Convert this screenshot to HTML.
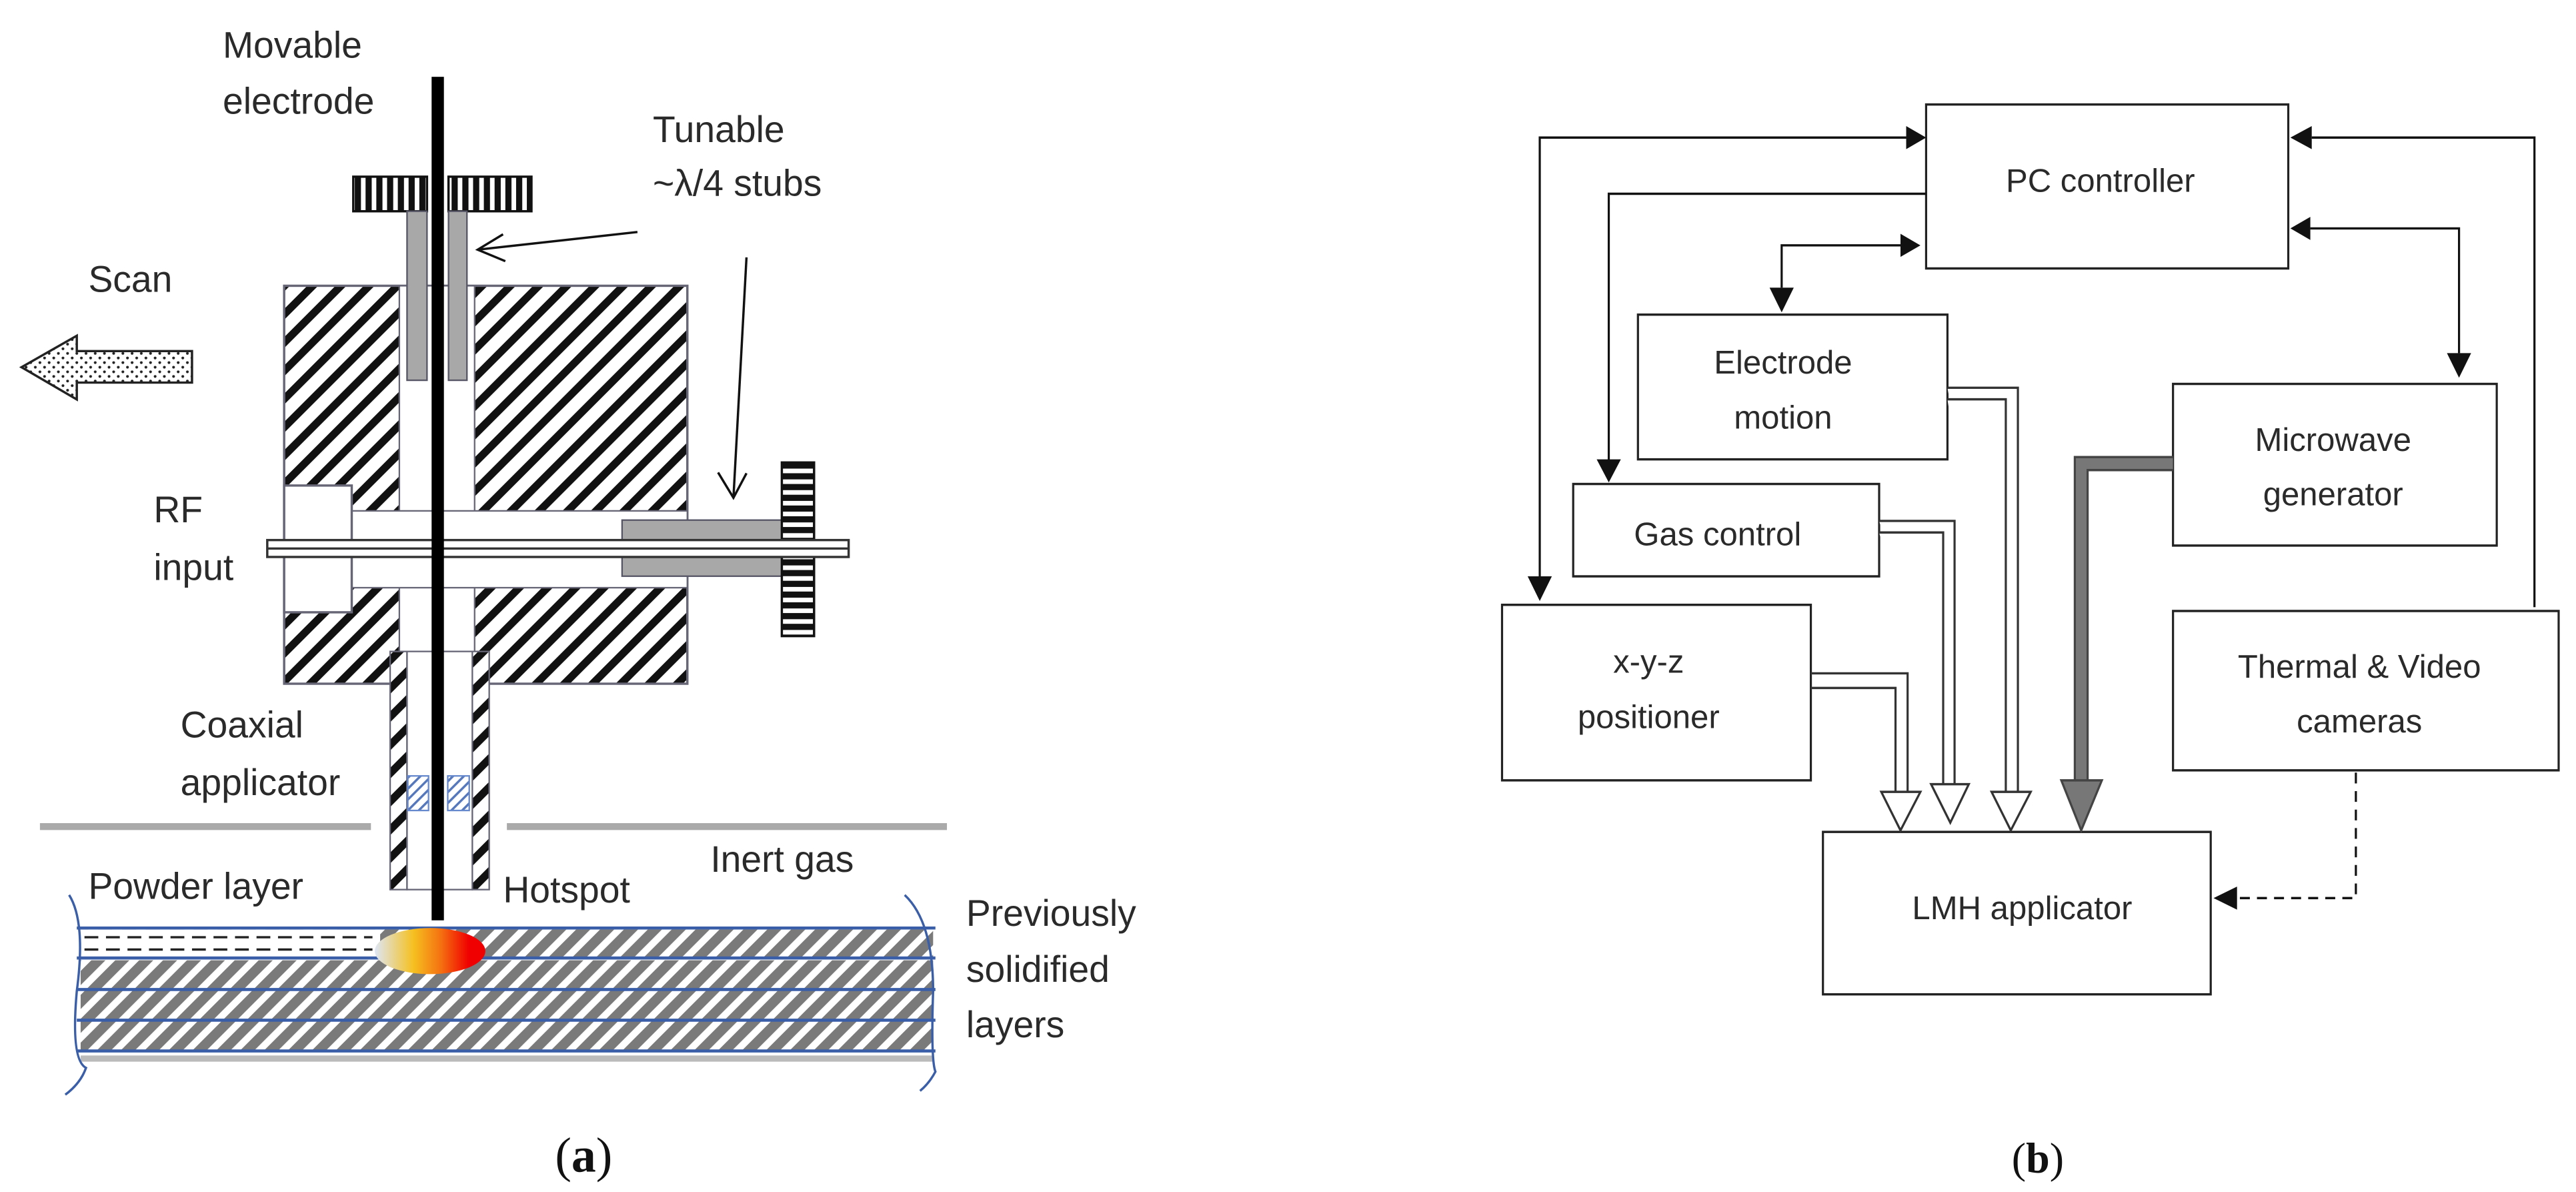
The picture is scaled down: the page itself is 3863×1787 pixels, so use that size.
<!DOCTYPE html>
<html><head><meta charset="utf-8"><style>
html,body{margin:0;padding:0;background:#fff;}
svg{display:block;}
text{font-family:"Liberation Sans",sans-serif;fill:#2a2a2a;}
</style></head><body>
<svg width="3863" height="1787" viewBox="0 0 3863 1787" xmlns="http://www.w3.org/2000/svg">
<defs>
<pattern id="hb" patternUnits="userSpaceOnUse" width="26" height="26" patternTransform="rotate(45)">
<rect width="26" height="26" fill="#fff"/><rect x="0" y="0" width="10" height="26" fill="#111"/></pattern>
<pattern id="hg" patternUnits="userSpaceOnUse" width="22" height="22" patternTransform="rotate(45)">
<rect width="22" height="22" fill="#fff"/><rect x="0" y="0" width="13" height="22" fill="#7a7a7a"/></pattern>
<pattern id="hblue" patternUnits="userSpaceOnUse" width="10" height="10" patternTransform="rotate(45)">
<rect width="10" height="10" fill="#fff"/><rect width="3" height="10" fill="#5577bb"/></pattern>
<pattern id="vs" patternUnits="userSpaceOnUse" width="14" height="14">
<rect width="14" height="14" fill="#fff"/><rect width="8" height="14" fill="#111"/></pattern>
<pattern id="hs" patternUnits="userSpaceOnUse" width="14" height="14">
<rect width="14" height="14" fill="#fff"/><rect width="14" height="8" fill="#111"/></pattern>
<pattern id="dots" patternUnits="userSpaceOnUse" width="12" height="12">
<rect width="12" height="12" fill="#fff"/><circle cx="4" cy="4" r="1.8" fill="#222"/><circle cx="10" cy="10" r="1.8" fill="#222"/></pattern>
<linearGradient id="hot" x1="0" x2="1" y1="0" y2="0">
<stop offset="0" stop-color="#dde6f4"/><stop offset="0.35" stop-color="#f5c020"/><stop offset="0.6" stop-color="#f57010"/><stop offset="0.85" stop-color="#f00000"/></linearGradient>
</defs>

<!-- Panel (a) -->
<g transform="scale(1.1517)">
<g font-size="48">
<text x="290" y="75">Movable</text>
<text x="290" y="148">electrode</text>
<text x="850" y="185">Tunable</text>
<text x="850" y="255">~λ/4 stubs</text>
<text x="115" y="380">Scan</text>
<text x="200" y="680">RF</text>
<text x="200" y="755">input</text>
<text x="235" y="960">Coaxial</text>
<text x="235" y="1035">applicator</text>
<text x="115" y="1170">Powder layer</text>
<text x="655" y="1175">Hotspot</text>
<text x="925" y="1135">Inert gas</text>
<text x="1258" y="1205">Previously</text>
<text x="1258" y="1278">solidified</text>
<text x="1258" y="1350">layers</text>
</g>

<path d="M250,457 L100,457 L100,437 L28,478 L100,520 L100,498 L250,498 z" fill="url(#dots)" stroke="#222" stroke-width="3"/>

<rect x="370" y="372" width="525" height="518" fill="url(#hb)" stroke="#667" stroke-width="3"/>
<rect x="520" y="372" width="98" height="518" fill="#fff" stroke="#667" stroke-width="2"/>
<rect x="458" y="665" width="437" height="100" fill="#fff" stroke="#667" stroke-width="2"/>
<rect x="370" y="632" width="88" height="165" fill="#fff" stroke="#667" stroke-width="3"/>
<rect x="508" y="848" width="22" height="310" fill="url(#hb)" stroke="#667" stroke-width="2"/>
<rect x="615" y="848" width="22" height="310" fill="url(#hb)" stroke="#667" stroke-width="2"/>
<rect x="530" y="848" width="85" height="310" fill="#fff" stroke="#667" stroke-width="2"/>
<rect x="531" y="1010" width="27" height="45" fill="url(#hblue)" stroke="#6688cc" stroke-width="2"/>
<rect x="583" y="1010" width="28" height="45" fill="url(#hblue)" stroke="#6688cc" stroke-width="2"/>
<rect x="460" y="230" width="96" height="45" fill="url(#vs)" stroke="#111" stroke-width="3"/>
<rect x="584" y="230" width="108" height="45" fill="url(#vs)" stroke="#111" stroke-width="3"/>
<rect x="530" y="275" width="26" height="220" fill="#a8a8a8" stroke="#556" stroke-width="2"/>
<rect x="584" y="275" width="24" height="220" fill="#a8a8a8" stroke="#556" stroke-width="2"/>
<rect x="810" y="677" width="210" height="73" fill="#a8a8a8" stroke="#556" stroke-width="2"/>
<rect x="1018" y="602" width="42" height="226" fill="url(#hs)" stroke="#111" stroke-width="3"/>
<rect x="348" y="703" width="757" height="22" fill="#fff" stroke="#333" stroke-width="3"/>
<line x1="348" y1="714" x2="1105" y2="714" stroke="#333" stroke-width="3"/>
<rect x="562" y="100" width="16" height="1098" fill="#000"/>
<line x1="830" y1="302" x2="622" y2="325" stroke="#111" stroke-width="3"/>
<path d="M655,305 L622,325 L658,340" fill="none" stroke="#111" stroke-width="3"/>
<line x1="972" y1="335" x2="955" y2="648" stroke="#111" stroke-width="3"/>
<path d="M935,615 L955,648 L972,616" fill="none" stroke="#111" stroke-width="3"/>
<line x1="52" y1="1076" x2="483" y2="1076" stroke="#aaa" stroke-width="9"/>
<line x1="660" y1="1076" x2="1233" y2="1076" stroke="#aaa" stroke-width="9"/>
<rect x="105" y="1210" width="1110" height="36" fill="url(#hg)"/>
<rect x="105" y="1210" width="390" height="36" fill="#fff"/>
<line x1="110" y1="1220" x2="485" y2="1220" stroke="#222" stroke-width="3" stroke-dasharray="18,10"/>
<line x1="110" y1="1236" x2="485" y2="1236" stroke="#222" stroke-width="3" stroke-dasharray="18,10"/>
<rect x="105" y="1250" width="1110" height="118" fill="url(#hg)"/>
<g stroke="#3a5fa8" stroke-width="4">
<line x1="100" y1="1208" x2="1218" y2="1208"/>
<line x1="100" y1="1247" x2="1218" y2="1247"/>
<line x1="100" y1="1288" x2="1218" y2="1288"/>
<line x1="100" y1="1328" x2="1218" y2="1328"/>
<line x1="100" y1="1368" x2="1218" y2="1368"/>
</g>
<line x1="105" y1="1378" x2="1215" y2="1378" stroke="#bbb" stroke-width="8"/>
<path d="M90,1165 Q112,1200 100,1290 Q92,1380 112,1390 Q105,1410 85,1425" fill="none" stroke="#3a5fa8" stroke-width="3"/>
<path d="M1178,1165 Q1215,1200 1215,1290 Q1212,1380 1218,1395 Q1210,1410 1198,1420" fill="none" stroke="#3a5fa8" stroke-width="3"/>
<ellipse cx="560" cy="1238" rx="72" ry="30" fill="url(#hot)"/>
<text x="760" y="1525" font-size="64" text-anchor="middle" style="font-family:'Liberation Serif',serif;fill:#111">(<tspan font-weight="bold">a</tspan>)</text>
</g>

<!-- Panel (b) -->
<g transform="translate(2197,-13) scale(1.067,1.154)" fill="none">
<g stroke="#222" stroke-width="3" fill="#fff">
<rect x="648" y="147" width="509" height="213"/>
<rect x="243" y="420" width="435" height="188"/>
<rect x="152" y="640" width="430" height="120"/>
<rect x="52" y="797" width="434" height="228"/>
<rect x="995" y="510" width="455" height="210"/>
<rect x="995" y="805" width="542" height="207"/>
<rect x="503" y="1092" width="545" height="211"/>
</g>
<g font-size="46" text-anchor="middle" transform="scale(1,0.93)">
<text x="893" y="280">PC controller</text>
<text x="447" y="534">Electrode</text>
<text x="447" y="611">motion</text>
<text x="355" y="774">Gas control</text>
<text x="258" y="952">x-y-z</text>
<text x="258" y="1029">positioner</text>
<text x="1220" y="642">Microwave</text>
<text x="1220" y="718">generator</text>
<text x="1257" y="959">Thermal &amp; Video</text>
<text x="1257" y="1035">cameras</text>
<text x="783" y="1296">LMH applicator</text>
<text x="805" y="1650" font-size="60" style="font-family:'Liberation Serif',serif;fill:#111">(<tspan font-weight="bold">b</tspan>)</text>
</g>
<g stroke="#111" stroke-width="3">
<path d="M105,760 L105,190 L620,190"/>
<path d="M648,263 L202,263 L202,610"/>
<path d="M445,385 L445,330 L612,330"/>
<path d="M1503,800 L1503,190 L1190,190"/>
<path d="M1188,308 L1397,308 L1397,470"/>
</g>
<g fill="#111">
<path d="M88,760 L122,760 L105,792 z"/>
<path d="M620,175 L620,205 L648,190 z"/>
<path d="M185,608 L219,608 L202,638 z"/>
<path d="M612,315 L612,345 L640,330 z"/>
<path d="M428,385 L462,385 L445,417 z"/>
<path d="M1190,175 L1190,205 L1160,190 z"/>
<path d="M1188,293 L1188,323 L1160,308 z"/>
<path d="M1380,470 L1414,470 L1397,502 z"/>
<path d="M1085,1163 L1085,1193 L1052,1178 z"/>
</g>
<path d="M1252,1015 L1252,1178 L1085,1178" stroke="#111" stroke-width="3" stroke-dasharray="14,10"/>
<g stroke="#333" stroke-width="3" fill="#fff">
<path d="M678,515 L777,515 L777,1040 M678,530 L760,530 L760,1040"/>
<path d="M740,1040 L795,1040 L767,1090 z"/>
<path d="M582,688 L688,688 L688,1030 M582,703 L672,703 L672,1030"/>
<path d="M655,1030 L708,1030 L682,1080 z"/>
<path d="M486,886 L622,886 L622,1040 M486,905 L605,905 L605,1040"/>
<path d="M585,1040 L640,1040 L612,1090 z"/>
</g>
<path d="M995,613 L866,613 L866,1030" stroke="#777" stroke-width="18"/>
<path d="M995,605 L857,605 L857,1030 M995,622 L875,622 L875,1030" stroke="#444" stroke-width="3"/>
<path d="M838,1025 L895,1025 L866,1090 z" fill="#777" stroke="#444" stroke-width="3"/>
</g>
</svg>
</body></html>
